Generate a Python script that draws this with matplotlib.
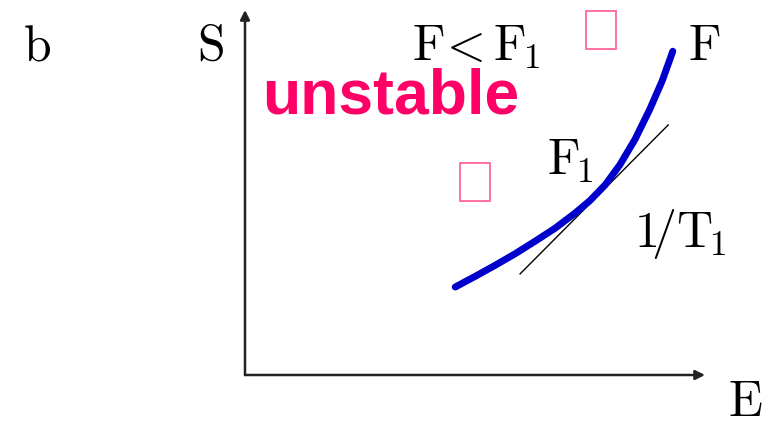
import matplotlib
matplotlib.use("Agg")
import matplotlib.pyplot as plt
from matplotlib.patches import Rectangle

plt.rcParams['mathtext.fontset'] = 'cm'

# Curve S(E) (arbitrary units)
E_curve = [4.57, 5.00, 5.43, 5.87, 6.30, 6.74, 7.17, 7.50, 7.83, 8.15, 8.48, 8.80, 9.07, 9.30]
S_curve = [2.41, 2.70, 3.00, 3.32, 3.66, 4.02, 4.43, 4.78, 5.21, 5.76, 6.46, 7.28, 8.06, 8.87]
# Tangent line 1/T1
E_tan = [5.98, 9.20]
S_tan = [2.77, 6.85]

fig = plt.figure(figsize=(7.7, 4.26), dpi=100)
ax = fig.add_axes([245/770, 1 - 375/426, 460/770, 365/426])
ax.set_xlim(0, 10)
ax.set_ylim(0, 10)
ax.axis('off')

# axes arrows
ax.annotate('', xy=(10, 0), xytext=(0, 0),
            arrowprops=dict(arrowstyle='-|>', lw=1.8, color='#222222',
                            mutation_scale=14, shrinkA=0, shrinkB=0))
ax.annotate('', xy=(0, 10), xytext=(0, 0),
            arrowprops=dict(arrowstyle='-|>', lw=1.8, color='#222222',
                            mutation_scale=14, shrinkA=0, shrinkB=0))

ax.plot(E_tan, S_tan, color='black', lw=1.0)
ax.plot(E_curve, S_curve, color='#0000cc', lw=5, solid_capstyle='round',
        solid_joinstyle='round')

fs = 36
kw = dict(fontsize=fs, va='baseline', ha='left', color='black', clip_on=False)
ax.text(-4.83, 8.63, r'$\mathrm{b}$', **kw)
ax.text(-1.04, 8.63, r'$\mathrm{S}$', **kw)
ax.text(3.63, 8.63, r'$\mathrm{F}\!<\mathrm{F}_{\!1}$', **kw)
ax.text(9.63, 8.63, r'$\mathrm{F}$', **kw)
ax.text(6.57, 5.48, r'$\mathrm{F}_{\!1}$', **kw)
ax.text(8.46, 3.51, r'$\mathrm{1\!/T}_{\!1}$', **kw)
ax.text(10.5, -1.12, r'$\mathrm{E}$', **kw)

ax.text(0.37, 7.16, 'unstable', fontsize=45, fontweight='bold',
        family='Liberation Sans', color='#ff0066', va='baseline', ha='left',
        clip_on=False)

# missing-glyph boxes
for (x0, y0) in [(7.41, 8.94), (4.67, 4.77)]:
    ax.add_patch(Rectangle((x0, y0), 0.66, 1.04, fill=False,
                           edgecolor='#ff6699', lw=1.3, clip_on=False))

fig.savefig('out.png', dpi=100)
